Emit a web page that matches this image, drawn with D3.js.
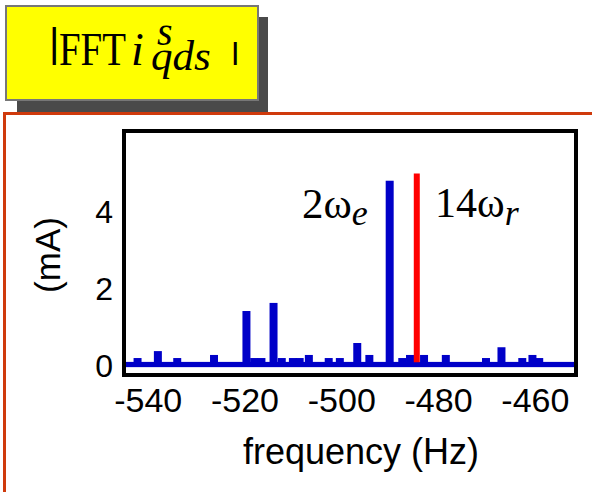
<!DOCTYPE html>
<html>
<head>
<meta charset="utf-8">
<script src="https://cdn.jsdelivr.net/npm/d3@7"></script>
<style>
  html, body { margin: 0; padding: 0; background: #fff; }
  svg { display: block; }
</style>
</head>
<body>
<svg id="chart" width="592" height="492"></svg>
<script>
// Spectrum bins of |FFT i_qds^s| (frequency in Hz, magnitude in mA)
const freqHz = [-542.1, -537.9, -533.9, -526.3, -519.6, -518.0, -516.5, -514.0, -512.3,
                -510.0, -508.6, -506.7, -502.6, -500.3, -496.7, -494.2, -490.0, -487.4,
                -485.8, -482.9, -478.4, -470.1, -466.9, -462.6, -460.5, -459.1];
const magMA = [0.21, 0.39, 0.21, 0.29, 1.43, 0.21, 0.21, 1.64, 0.21,
               0.21, 0.21, 0.29, 0.21, 0.21, 0.60, 0.29, 4.81, 0.21,
               0.29, 0.29, 0.29, 0.21, 0.49, 0.21, 0.29, 0.21];
// Noise floor level across the whole band
const floorMA = 0.11;
// Harmonic 14·ωr marked in red
const rotorHz = [-484.4];
const rotorMA = [5.0];
const binHz = 1.65;

const xTicks = [-540, -520, -500, -480, -460];
const yTicks = [0, 2, 4];
const xDomain = [-544.9, -451.5];
const yDomain = [-0.23, 6.1];

const svg = d3.select("#chart");
const blue = "#0000c8";
const serif = "'Liberation Serif', 'Times New Roman', serif";
const sans = "'Liberation Sans', Arial, sans-serif";

// Outer orange panel
svg.append("rect")
  .attr("x", 4.5).attr("y", 113.5).attr("width", 600).attr("height", 400)
  .attr("fill", "#fff").attr("stroke", "#cf3a0c").attr("stroke-width", 3);

// Title box with drop shadow
svg.append("rect").attr("x", 17).attr("y", 17).attr("width", 251).attr("height", 95)
  .attr("fill", "#4a4a4a");
svg.append("rect").attr("x", 6).attr("y", 6).attr("width", 252).attr("height", 94)
  .attr("fill", "#ffff00").attr("stroke", "#777").attr("stroke-width", 2);

// Title: |FFT i_qds^s |
const title = svg.append("text").attr("font-family", serif);
title.append("tspan").attr("x", 49).attr("y", 57).attr("font-family", sans)
  .attr("font-size", 40).text("|");
title.append("tspan").attr("x", 59).attr("y", 65).attr("font-size", 46)
  .attr("textLength", 67).attr("lengthAdjust", "spacingAndGlyphs").text("FFT");
title.append("tspan").attr("x", 131).attr("y", 65).attr("font-style", "italic")
  .attr("font-size", 46).text("i");
title.append("tspan").attr("x", 157).attr("y", 45).attr("font-style", "italic")
  .attr("font-size", 40).text("s");
title.append("tspan").attr("x", 151).attr("y", 70).attr("font-style", "italic")
  .attr("font-size", 43).text("qds");
title.append("tspan").attr("x", 232).attr("y", 60).attr("font-family", sans)
  .attr("font-weight", "bold").attr("font-size", 23).text("|");

// Plot area
const frame = { left: 124, right: 576, top: 131, bottom: 375 };
const x = d3.scaleLinear().domain(xDomain).range([frame.left, frame.right]);
const y = d3.scaleLinear().domain(yDomain).range([frame.bottom, frame.top]);

const plot = svg.append("g");

// Noise floor band
plot.append("rect")
  .attr("x", x(xDomain[0]) + 2).attr("width", x(xDomain[1]) - x(xDomain[0]) - 3)
  .attr("y", y(floorMA)).attr("height", y(0) - y(floorMA) + 1)
  .attr("fill", blue);

// Spectral bins
plot.selectAll("rect.bin")
  .data(freqHz.map((f, i) => ({ f, v: magMA[i] })))
  .join("rect")
  .attr("class", "bin")
  .attr("x", d => x(d.f - binHz / 2))
  .attr("width", d => x(d.f + binHz / 2) - x(d.f - binHz / 2))
  .attr("y", d => y(d.v))
  .attr("height", d => y(0) - y(d.v))
  .attr("fill", blue);

// Rotor-slot harmonic
plot.selectAll("line.rotor")
  .data(rotorHz.map((f, i) => ({ f, v: rotorMA[i] })))
  .join("line")
  .attr("class", "rotor")
  .attr("x1", d => x(d.f)).attr("x2", d => x(d.f))
  .attr("y1", y(0.1)).attr("y2", d => y(d.v))
  .attr("stroke", "#ff0000").attr("stroke-width", 6);

// Axes frame
svg.append("rect")
  .attr("x", frame.left).attr("y", frame.top)
  .attr("width", frame.right - frame.left).attr("height", frame.bottom - frame.top)
  .attr("fill", "none").attr("stroke", "#000").attr("stroke-width", 4);

// Axes (plain hyphen minus signs)
const fmt = d => String(d);
const xAxis = svg.append("g").attr("transform", `translate(0,${frame.bottom})`)
  .call(d3.axisBottom(x).tickValues(xTicks).tickSize(0).tickPadding(13).tickFormat(fmt));
xAxis.select(".domain").remove();
xAxis.selectAll("text").attr("font-family", sans).attr("font-size", 34).attr("fill", "#000");

const yAxis = svg.append("g").attr("transform", `translate(${frame.left - 2},0)`)
  .call(d3.axisLeft(y).tickValues(yTicks).tickSize(0).tickPadding(9).tickFormat(fmt));
yAxis.select(".domain").remove();
yAxis.selectAll("text").attr("font-family", sans).attr("font-size", 32).attr("fill", "#000");

// Axis titles
svg.append("text").attr("x", 361).attr("y", 464).attr("text-anchor", "middle")
  .attr("font-family", sans).attr("font-size", 36).text("frequency (Hz)");
svg.append("text").attr("transform", "translate(60,255) rotate(-90)")
  .attr("text-anchor", "middle").attr("font-family", sans).attr("font-size", 35).text("(mA)");

// Peak annotations
const a1 = svg.append("text").attr("x", 302).attr("y", 218).attr("font-family", serif).attr("font-size", 43);
a1.append("tspan").text("2ω");
a1.append("tspan").attr("font-style", "italic").attr("font-size", 36).attr("dy", 7).text("e");

const a2 = svg.append("text").attr("x", 435).attr("y", 217).attr("font-family", serif).attr("font-size", 42);
a2.append("tspan").text("14ω");
a2.append("tspan").attr("font-style", "italic").attr("font-size", 36).attr("dy", 8).text("r");
</script>
</body>
</html>
